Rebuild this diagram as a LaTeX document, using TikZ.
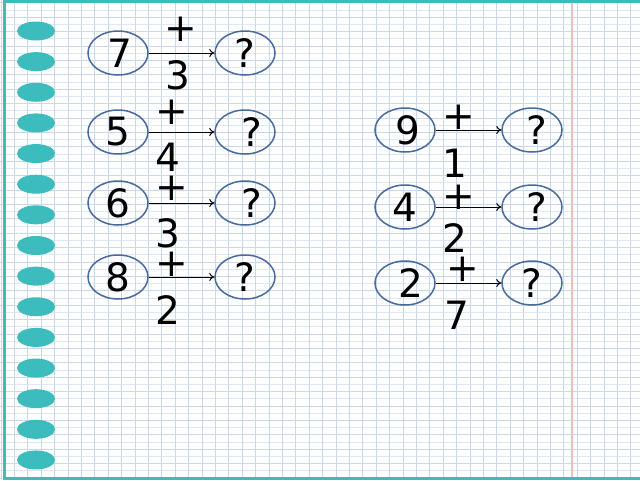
\documentclass[tikz,border=0pt]{standalone}
\usepackage{fontspec}
\setmainfont{DejaVu Sans}
\usetikzlibrary{shapes.geometric,arrows.meta}
\definecolor{gridblue}{RGB}{200,216,238}
\definecolor{gridlight}{RGB}{222,232,246}
\definecolor{teal}{RGB}{60,188,188}
\definecolor{margin}{RGB}{238,192,186}
\definecolor{ovalblue}{RGB}{72,106,156}

\begin{document}
\begin{tikzpicture}[x=1pt,y=-1pt,
    oval/.style={ellipse, draw=ovalblue, line width=1.5pt, minimum width=60pt, minimum height=44pt, inner sep=0pt, font=\fontsize{39}{39}\selectfont},
    sign/.style={inner sep=0pt, font=\fontsize{39}{39}\selectfont},
    link/.style={-{To[length=5pt,width=8pt]}, line width=1pt},
    ring/.style={fill=teal, draw=none}]
    \useasboundingbox (0,0) rectangle (640,480);
    \fill[white] (0,0) rectangle (640,480);
    % paper grid
    \foreach \i in {0,...,66} {
        \pgfmathsetmacro{\c}{isodd(\i)}
        \ifdim\c pt>0.5pt \draw[gridlight, line width=0.8pt] (0,2.8+7.2*\i) -- (640,2.8+7.2*\i);
        \else \draw[gridblue, line width=0.8pt] (0,2.8+7.2*\i) -- (640,2.8+7.2*\i); \fi
    }
    \foreach \i in {0,...,47}
        \draw[gridblue, line width=1pt] (1+13.4*\i,0) -- (1+13.4*\i,480);
    \draw[margin, line width=1.6pt] (572,0) -- (572,480);
    % binder
    \draw[teal, line width=3pt] (640,1.5) -- (4,1.5) -- (4,478.5) -- (640,478.5);
    \foreach \i in {0,...,14}
        \fill[ring] (36,31+30.64*\i) ellipse (19 and 9.5);

    % left column
    \node[oval] (a1) at (118,53) {\hspace{4pt}7};
    \node[oval] (b1) at (245,53) {?};
    \draw[link] (a1.east) -- (b1.west);
    \node[sign] at (181,29) {+};
    \node[sign] at (178,75) {3};

    \node[oval] (a2) at (118,132) {5};
    \node[oval] (b2) at (245,132) {\hspace{14pt}?};
    \draw[link] (a2.east) -- (b2.west);
    \node[sign] at (172,112) {+};
    \node[sign] at (168,157) {4};

    \node[oval] (a3) at (118,203) {6};
    \node[oval] (b3) at (245,203) {\hspace{14pt}?};
    \draw[link] (a3.east) -- (b3.west);
    \node[sign] at (172,188) {+};
    \node[sign] at (168,233) {3};

    \node[oval] (a4) at (118,277) {8};
    \node[oval] (b4) at (245,277) {?};
    \draw[link] (a4.east) -- (b4.west);
    \node[sign] at (172,264) {+};
    \node[sign] at (168,310) {2};

    % right column
    \node[oval] (c1) at (405,130) {\hspace{6pt}9};
    \node[oval] (d1) at (532,130) {\hspace{10pt}?};
    \draw[link] (c1.east) -- (d1.west);
    \node[sign] at (459,117) {+};
    \node[sign] at (455,163) {1};

    \node[oval] (c2) at (405,207) {4};
    \node[oval] (d2) at (532,207) {\hspace{10pt}?};
    \draw[link] (c2.east) -- (d2.west);
    \node[sign] at (459,197) {+};
    \node[sign] at (455,238) {2};

    \node[oval] (c3) at (405,283) {\hspace{12pt}2};
    \node[oval] (d3) at (532,283) {?};
    \draw[link] (c3.east) -- (d3.west);
    \node[sign] at (463,269) {+};
    \node[sign] at (457,315) {7};
\end{tikzpicture}
\end{document}
